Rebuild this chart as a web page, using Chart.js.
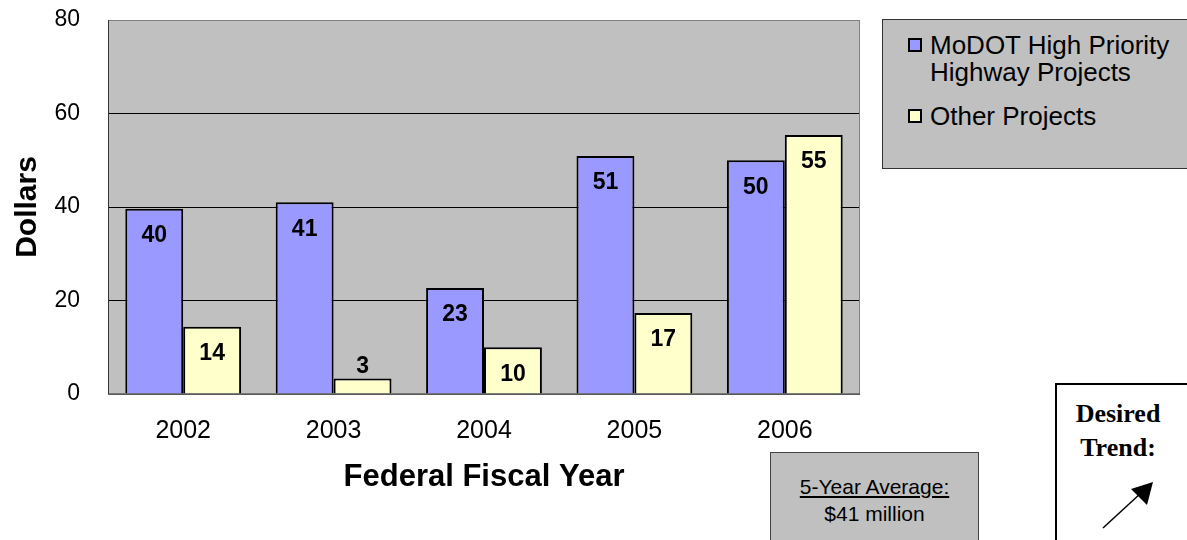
<!DOCTYPE html>
<html>
<head>
<meta charset="utf-8">
<script src="https://cdn.jsdelivr.net/npm/chart.js@4.4.1/dist/chart.umd.min.js"></script>
<style>
  body { margin: 0; background: #fff; font-family: "Liberation Sans", Arial, sans-serif; }
  #wrap { position: relative; width: 1187px; height: 540px; overflow: hidden; }
  canvas { display: block; }
  #legend { position: absolute; left: 882px; top: 19px; width: 320px; height: 150px; background: #c0c0c0; border: 1px solid #333; box-sizing: border-box; }
  .item { position: absolute; left: 25px; font-size: 26px; line-height: 27px; color: #000; white-space: nowrap; }
  .item .sw { position: absolute; left: 0; top: 6px; width: 14px; height: 14px; border: 2px solid #000; box-sizing: border-box; }
  .item .tx { margin-left: 22px; display: block; }
  #avg { position: absolute; left: 770px; top: 452px; width: 209px; height: 100px; background: #c0c0c0; border: 1px solid #444; box-sizing: border-box; text-align: center; font-size: 21px; color: #000; padding-top: 20px; line-height: 27px; }
  #trend { position: absolute; left: 1055px; top: 383px; width: 150px; height: 170px; background: #fff; border: 2px solid #000; box-sizing: border-box; }
  #trend .t { position: absolute; left: 0; width: 122px; text-align: center; font-family: "Liberation Serif", "Times New Roman", serif; font-weight: bold; font-size: 26px; line-height: 30px; }
</style>
</head>
<body>
<div id="wrap">
  <canvas id="chart" width="1187" height="540"></canvas>
  <div id="legend"></div>
  <div id="avg"><u>5-Year Average:</u><br>$41 million</div>
  <div id="trend">
    <div class="t" style="top:14px">Desired</div>
    <div class="t" style="top:48px">Trend:</div>
    <svg width="150" height="170" style="position:absolute;left:-2px;top:-2px">
      <line x1="48" y1="145" x2="86" y2="110" stroke="#000" stroke-width="1.5"/>
      <polygon points="98,99 76,106 92,122" fill="#000"/>
    </svg>
  </div>
</div>
<script>
const years = ['2002', '2003', '2004', '2005', '2006']
const modotValues = [39.6, 41.0, 22.7, 50.9, 50.0]
const otherValues = [14.4, 3.3, 10.0, 17.3, 55.4]
const yTicks = [0, 20, 40, 60, 80]

const plotBg = {
    id: 'plotBg',
    beforeDraw(chart) {
        const {ctx, chartArea: a} = chart
        ctx.save()
        ctx.fillStyle = '#c0c0c0'
        ctx.fillRect(a.left, a.top, a.right - a.left, a.bottom - a.top)
        ctx.restore()
    },
    afterDatasetsDraw(chart) {
        const {ctx, chartArea: a} = chart
        ctx.save()
        ctx.strokeStyle = '#808080'
        ctx.lineWidth = 1
        ctx.strokeRect(a.left + 0.5, a.top + 0.5, a.right - a.left - 1, a.bottom - a.top)
        ctx.strokeStyle = '#333'
        ctx.beginPath()
        ctx.moveTo(a.left + 0.5, a.top)
        ctx.lineTo(a.left + 0.5, a.bottom)
        ctx.lineTo(a.right, a.bottom)
        ctx.stroke()
        ctx.restore()
    }
}

const barLabels = {
    id: 'barLabels',
    afterDatasetsDraw(chart) {
        const ctx = chart.ctx
        ctx.save()
        ctx.font = 'bold 23px "Liberation Sans", Arial, sans-serif'
        ctx.fillStyle = '#000'
        ctx.textAlign = 'center'
        ctx.textBaseline = 'middle'
        chart.data.datasets.forEach((ds, i) => {
            chart.getDatasetMeta(i).data.forEach((bar, j) => {
                const h = bar.base - bar.y
                const y = h > 40 ? bar.y + 27 : bar.y - 12
                ctx.fillText(Math.round(ds.data[j]), bar.x, y)
            })
        })
        ctx.restore()
    }
}

const chart = new Chart(document.getElementById('chart'), {
    type: 'bar',
    data: {
        labels: years,
        datasets: [
            {label: 'MoDOT High Priority Highway Projects', data: modotValues, backgroundColor: '#9999ff', borderColor: '#000', borderWidth: 2},
            {label: 'Other Projects', data: otherValues, backgroundColor: '#ffffcc', borderColor: '#000', borderWidth: 2}
        ]
    },
    options: {
        responsive: false,
        animation: false,
        layout: {padding: {top: 0, right: 327, bottom: 40, left: 6}},
        categoryPercentage: 0.77,
        barPercentage: 1,
        plugins: {legend: {display: false}, tooltip: {enabled: false}},
        scales: {
            x: {
                afterFit: axis => { axis.height = 106 },
                grid: {display: false, drawTicks: false},
                border: {display: false},
                ticks: {color: '#000', padding: 22, font: {size: 25, family: '"Liberation Sans", Arial'}},
                title: {display: true, text: 'Federal Fiscal Year', color: '#000', font: {size: 31, weight: 'bold', family: '"Liberation Sans", Arial'}}
            },
            y: {
                min: 0, max: 80,
                afterFit: axis => { axis.width = 102; axis.paddingTop = 20; axis.paddingBottom = 0 },
                afterBuildTicks: axis => { axis.ticks = yTicks.map(v => ({value: v})) },
                grid: {color: '#000', lineWidth: 1, drawTicks: false},
                border: {display: false},
                ticks: {color: '#000', padding: 28, font: {size: 23, family: '"Liberation Sans", Arial'}},
                title: {display: true, text: 'Dollars', color: '#000', font: {size: 30, weight: 'bold', family: '"Liberation Sans", Arial'}}
            }
        }
    },
    plugins: [plotBg, barLabels]
})

// html legend built from the datasets
const legend = document.getElementById('legend')
const legendLines = [['MoDOT High Priority', 'Highway Projects'], ['Other Projects']]
const tops = [12, 83]
chart.data.datasets.forEach((ds, i) => {
    const el = document.createElement('div')
    el.className = 'item'
    el.style.top = tops[i] + 'px'
    el.innerHTML = '<span class="sw" style="background:' + ds.backgroundColor + '"></span>' +
        legendLines[i].map(t => '<span class="tx">' + t + '</span>').join('')
    legend.appendChild(el)
})
</script>
</body>
</html>
